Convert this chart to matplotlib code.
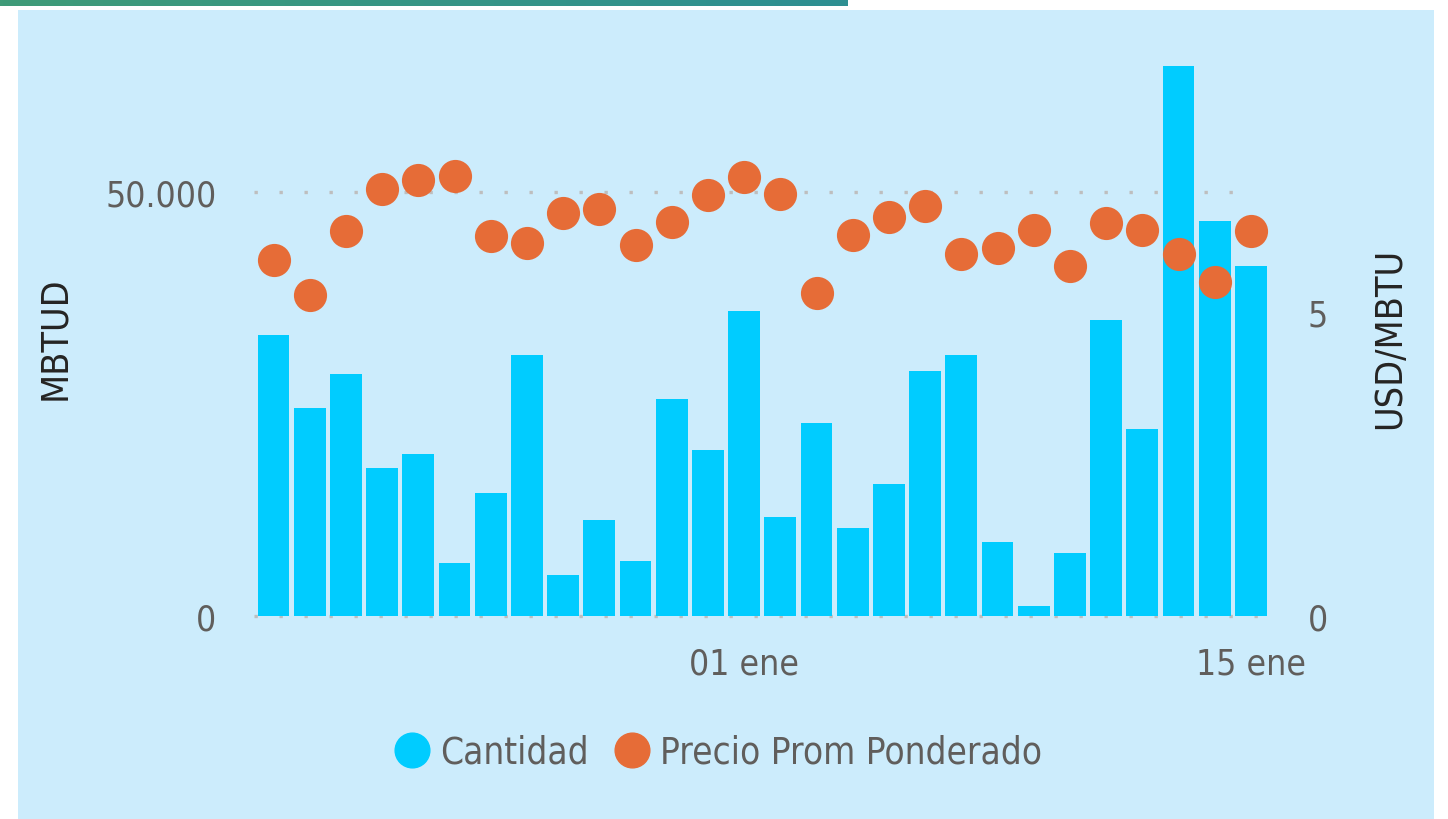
"""Cantidad vs precio promedio ponderado, diciembre-enero."""
import numpy as np
import pandas as pd
import matplotlib
matplotlib.use("Agg")
import matplotlib.pyplot as plt
from matplotlib.lines import Line2D

dias = pd.date_range("2023-12-19", "2024-01-15", freq="D")
cantidad = [33100, 24500, 28500, 17450, 19100, 6250, 14500, 30800, 4800,
            11300, 6500, 25600, 19600, 35950, 11650, 22750, 10400, 15550,
            28900, 30800, 8700, 1150, 7400, 34900, 22050, 64850, 46600,
            41300]
precio = [5.86, 5.28, 6.33, 7.02, 7.17, 7.24, 6.25, 6.13, 6.63, 6.69, 6.10,
          6.48, 6.92, 7.22, 6.94, 5.31, 6.27, 6.56, 6.74, 5.95, 6.05, 6.35,
          5.76, 6.46, 6.35, 5.95, 5.49, 6.33]
ticks_izq = [0, 50000]
ticks_der = [0, 5]

BG = "#CCECFC"
AZUL = "#00CCFF"
NARANJA = "#E66C37"
GRIS = "#605E5C"
FONT = dict(family="DejaVu Sans", stretch="condensed")
FS = 25.5

fig = plt.figure(figsize=(14.48, 8.2), dpi=100)
fig.patch.set_facecolor("white")

# franja degradada superior y panel de fondo
top = fig.add_axes([0, 1 - 7 / 820, 848 / 1448, 7 / 820])
grad = np.linspace(0, 1, 256).reshape(1, -1)
cmap = matplotlib.colors.LinearSegmentedColormap.from_list(
    "g", ["#3F9B78", "#2E8F92"])
top.imshow(grad, aspect="auto", cmap=cmap)
top.axis("off")
panel = fig.add_axes([18 / 1448, 0, (1434 - 18) / 1448, 1 - 11 / 820])
panel.set_facecolor(BG)
panel.set_xticks([])
panel.set_yticks([])
for s in panel.spines.values():
    s.set_visible(False)

ax = fig.add_axes([255.4 / 1448, 1 - 617 / 820, (1269 - 255.4) / 1448,
                   (617 - 60) / 820])
ax.patch.set_alpha(0)
x = np.arange(len(dias))
ax.bar(x, cantidad, width=0.88, color=AZUL, zorder=2)
ax.set_xlim(-0.5, len(dias) - 0.5)
ax.set_ylim(0, 65700)
ax.set_yticks(ticks_izq)
ax.set_yticklabels(["0", "50.000"], color=GRIS, fontsize=FS, **FONT)
for v in ticks_izq:
    ax.plot([-0.55, 26.5 if v else 27.5], [v, v], color="#BEBEBE", lw=2.4,
            ls=(0, (1, 6.5)), zorder=1, clip_on=False)
for s in ax.spines.values():
    s.set_visible(False)
ax.tick_params(length=0, pad=28)
ax.tick_params(axis="x", pad=22)

pos = [i for i, d in enumerate(dias) if d.month == 1 and d.day in (1, 15)]
ax.set_xticks(pos)
ax.set_xticklabels([dias[i].strftime("%d") + " ene" for i in pos],
                   color=GRIS, fontsize=FS, **FONT)
ax.set_ylabel("MBTUD", color="#252423", fontsize=27, labelpad=23, **FONT)

ax2 = ax.twinx()
ax2.scatter(x, precio, s=570, color=NARANJA, zorder=3, linewidths=0)
ax2.set_ylim(0, (617 - 60) / 60.8)
ax2.set_yticks(ticks_der)
ax2.set_yticklabels([str(t) for t in ticks_der], color=GRIS, fontsize=FS,
                    **FONT)
ax2.tick_params(length=0, pad=28)
for s in ax2.spines.values():
    s.set_visible(False)
ax2.set_ylabel("USD/MBTU", color="#252423", fontsize=27, labelpad=32,
               **FONT)

handles = [Line2D([], [], marker="o", ls="", color=AZUL, markersize=25),
           Line2D([], [], marker="o", ls="", color=NARANJA, markersize=25)]
leg = fig.legend(handles, ["Cantidad", "Precio Prom Ponderado"],
                 loc="center", bbox_to_anchor=(716 / 1448, 1 - 753 / 820),
                 ncol=2, frameon=False, handletextpad=0.15, columnspacing=0.6,
                 handlelength=1.2, prop=dict(size=26.5, **FONT))
for t in leg.get_texts():
    t.set_color(GRIS)

fig.savefig("out.png", dpi=100, facecolor=fig.get_facecolor())
